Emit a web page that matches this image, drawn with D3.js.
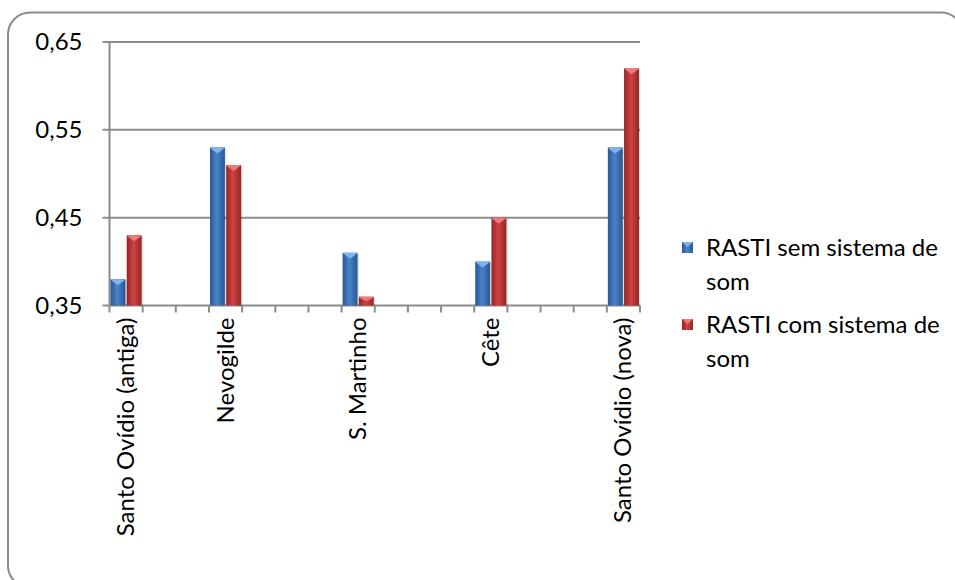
<!DOCTYPE html>
<html><head><meta charset="utf-8">
<script src="https://cdn.jsdelivr.net/npm/d3@7"></script>
<style>
html,body{margin:0;padding:0;background:#fff;}
svg{display:block;font-family:Lato,"Open Sans",sans-serif;}
</style></head>
<body>
<svg id="c" width="955" height="580"></svg>
<script>
const categories = ["Santo Ovídio (antiga)","","","Nevogilde","","","","S. Martinho","","","","Cête","","","","Santo Ovídio (nova)"];
const semSom = [0.38,null,null,0.53,null,null,null,0.41,null,null,null,0.40,null,null,null,0.53];
const comSom = [0.43,null,null,0.51,null,null,null,0.36,null,null,null,0.45,null,null,null,0.62];
const seriesNames = ["RASTI sem sistema de som","RASTI com sistema de som"];
const yTicks = [0.35,0.45,0.55,0.65];

const svg = d3.select("#c");
const defs = svg.append("defs");
function grad(id, edge, mid){
  const g = defs.append("linearGradient").attr("id",id).attr("x1","0").attr("x2","1").attr("y1","0").attr("y2","0");
  g.append("stop").attr("offset","0%").attr("stop-color",edge);
  g.append("stop").attr("offset","45%").attr("stop-color",mid);
  g.append("stop").attr("offset","100%").attr("stop-color",edge);
}
grad("gBlue","#275894","#4a82c9");
grad("gRed","#922626","#d24242");
const fills = ["url(#gBlue)","url(#gRed)"];
const caps = ["#7db4ee","#ec7a7a"];
const FS = 24;

svg.append("rect").attr("x",8).attr("y",12.5).attr("width",955).attr("height",575)
  .attr("rx",22).attr("fill","#fff").attr("stroke","#8a8a8a").attr("stroke-width",2);

const L = 109.5, R = 640, T = 42, B = 305.5;
const x0 = d3.scaleBand().domain(d3.range(categories.length)).range([L,R]).padding(0);
const x1 = d3.scaleBand().domain([0,1]).range([1, x0.bandwidth()-1]).paddingInner(0.08);
const y = d3.scaleLinear().domain([0.35,0.65]).range([B,T]);

// gridlines
svg.append("g").selectAll("line").data(yTicks).join("line")
  .attr("x1",L-7).attr("x2",R).attr("y1",d=>y(d)).attr("y2",d=>y(d))
  .attr("stroke","#8c8c8c").attr("stroke-width",2);
// y axis line
svg.append("line").attr("x1",L).attr("x2",L).attr("y1",T).attr("y2",B)
  .attr("stroke","#8c8c8c").attr("stroke-width",2);
// y labels
svg.append("g").selectAll("text").data(yTicks).join("text")
  .attr("x",L-27).attr("y",d=>y(d)).attr("dy","0.35em").attr("text-anchor","end")
  .attr("font-size",FS).attr("fill","#000").text(d=>d3.format(".2f")(d).replace(".",","));

// x tick marks
const tickXs = d3.range(categories.length+1).map(i => i===categories.length ? R : x0(i));
svg.append("g").selectAll("line").data(tickXs).join("line")
  .attr("x1",d=>d).attr("x2",d=>d).attr("y1",B).attr("y2",B+7)
  .attr("stroke","#8c8c8c").attr("stroke-width",2);

// bars
const series = [semSom, comSom];
const barG = svg.append("g");
categories.forEach((c,i)=>{
  series.forEach((vals,s)=>{
    const v = vals[i];
    if(v==null) return;
    const bx = x0(i)+x1(s), bw = x1.bandwidth(), by = y(v), bh = B - y(v);
    barG.append("rect").attr("x",bx+1.5).attr("y",by+1).attr("width",bw).attr("height",bh-1)
      .attr("fill","#000").attr("opacity",0.12);
    barG.append("rect").attr("x",bx).attr("y",by).attr("width",bw).attr("height",bh).attr("fill",fills[s]);
    const ch = Math.min(6, bh/2);
    barG.append("path").attr("d",`M${bx},${by}L${bx+bw},${by}L${bx+bw-2},${by+2}L${bx+bw/2},${by+ch}L${bx+2},${by+2}Z`)
      .attr("fill",caps[s]);
  });
});

// x labels
svg.append("g").selectAll("text").data(categories.map((c,i)=>({c,i})).filter(d=>d.c)).join("text")
  .attr("transform",d=>`translate(${x0(d.i)+x0.bandwidth()/2+8},${B+12}) rotate(-90)`)
  .attr("text-anchor","end").attr("font-size",FS).attr("fill","#000").text(d=>d.c);

// legend
const lg = svg.append("g");
const legendLines = [["RASTI sem sistema de","som"],["RASTI com sistema de","som"]];
legendLines.forEach((lines,s)=>{
  const top = 237 + s*77;
  lg.append("rect").attr("x",682).attr("y",top+5).attr("width",11).attr("height",11).attr("fill",fills[s]);
  lg.append("path").attr("d",`M682,${top+5}L693,${top+5}L687.5,${top+10}Z`).attr("fill",caps[s]);
  lines.forEach((t,k)=>{
    lg.append("text").attr("x",706).attr("y",top+19+k*34).attr("font-size",FS).attr("fill","#000").text(t);
  });
});
</script>
</body></html>
